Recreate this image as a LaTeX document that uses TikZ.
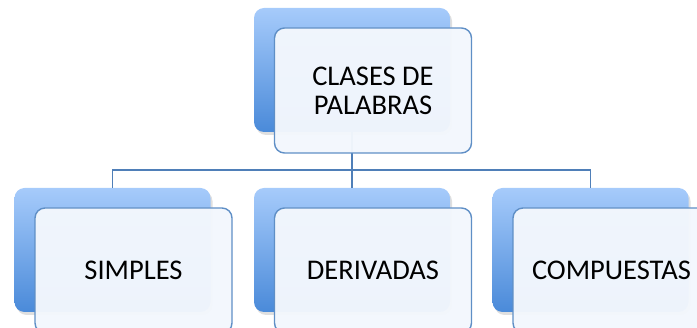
\documentclass[tikz,border=0pt]{standalone}
\usepackage{fontspec}
\setmainfont{Carlito}
\usetikzlibrary{positioning, shadows}
\definecolor{boxtop}{HTML}{A6CBFB}
\definecolor{boxbot}{HTML}{4A8AD9}
\definecolor{frame}{HTML}{5F8FC6}
\definecolor{paper}{HTML}{F3F7FD}
\definecolor{link}{HTML}{4F7FB8}

\begin{document}
\begin{tikzpicture}
[
x=1pt, y=-1pt,
font=\fontsize{28.5}{29}\selectfont,
back/.style={rectangle, rounded corners=10pt, minimum width=196pt, minimum height=124pt, top color=boxtop, bottom color=boxbot, draw=none, drop shadow={shadow xshift=2pt, shadow yshift=-3pt, opacity=0.25}},
front/.style={rectangle, rounded corners=10pt, minimum width=197pt, minimum height=125pt, fill=paper, fill opacity=0.97, text opacity=1, draw=frame, line width=1.4pt, align=center, inner sep=0pt},
wire/.style={draw=link, line width=1.4pt},
]
\useasboundingbox (0,0) rectangle (697,328);

\node [back] (backclases) at (352,70) {};
\node [back] (backsimples) at (112.5,250) {};
\node [back] (backderivadas) at (352,250) {};
\node [back] (backcompuestas) at (590.5,250) {};

\coordinate (hub) at (352,170);
\draw [wire] (backclases.south) -- (hub);
\draw [wire] (hub) -| (backsimples.north);
\draw [wire] (hub) -- (backderivadas.north);
\draw [wire] (hub) -| (backcompuestas.north);

\node [front] (clases) at ([xshift=21pt,yshift=-20.5pt]backclases.center) {CLASES DE\\PALABRAS};
\node [front] (simples) at ([xshift=21pt,yshift=-20.5pt]backsimples.center) {SIMPLES};
\node [front] (derivadas) at ([xshift=21pt,yshift=-20.5pt]backderivadas.center) {DERIVADAS};
\node [front] (compuestas) at ([xshift=21pt,yshift=-20.5pt]backcompuestas.center) {COMPUESTAS};
\end{tikzpicture}
\end{document}
